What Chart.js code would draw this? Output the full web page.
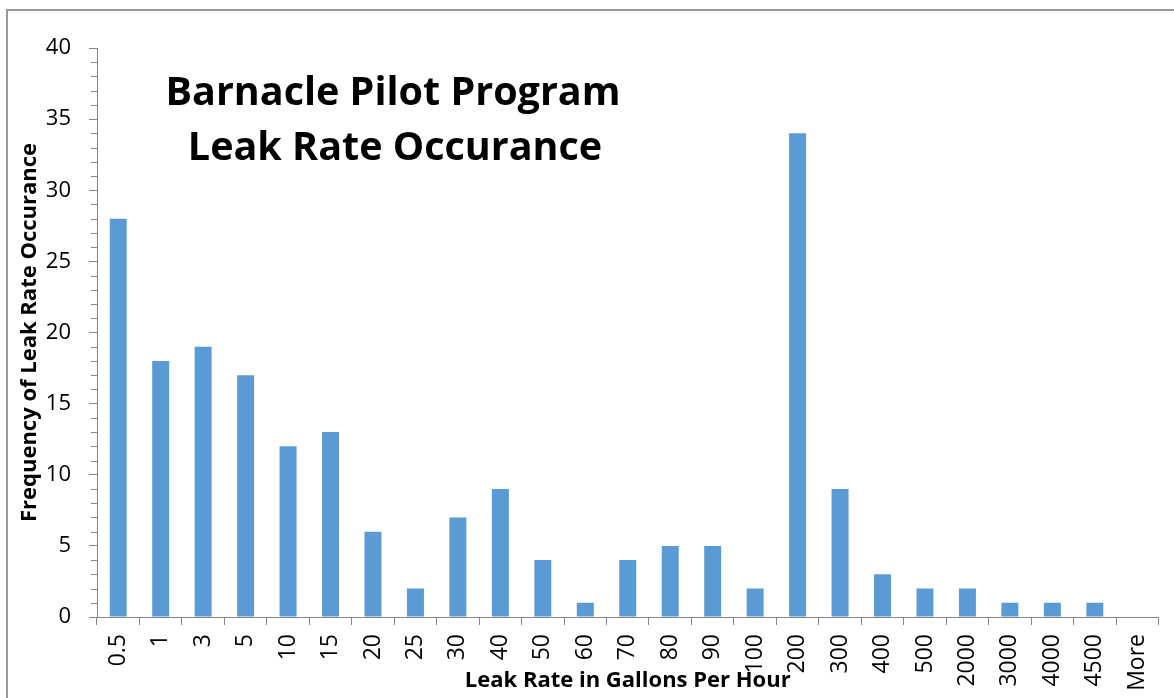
<!DOCTYPE html>
<html>
<head>
<meta charset="utf-8">
<script src="https://cdn.jsdelivr.net/npm/chart.js@4"></script>
<style>
  html, body { margin: 0; padding: 0; background: #fff; overflow: hidden; width: 1174px; height: 698px; }
  #frame { position: absolute; left: 6px; top: 9px; width: 2000px; height: 2000px; border: 2px solid #9a9a9a; box-sizing: border-box; }
  #wrap { position: absolute; left: 0; top: 0; width: 1174px; height: 698px; }
</style>
</head>
<body>
<div id="frame"></div>
<div id="wrap"><canvas id="c" width="1174" height="698"></canvas></div>
<script>
const categories = ["0.5","1","3","5","10","15","20","25","30","40","50","60","70","80","90","100","200","300","400","500","2000","3000","4000","4500","More"];
const frequency = [28,18,19,17,12,13,6,2,7,9,4,1,4,5,5,2,34,9,3,2,2,1,1,1,0];
const titleLines = ["Barnacle Pilot Program", "Leak Rate Occurance"];
const xTitle = "Leak Rate in Gallons Per Hour";
const yTitle = "Frequency of Leak Rate Occurance";

const axisColor = '#868686';
const FONT = "'Open Sans', 'Noto Sans', sans-serif";

const minorTicks = {
  id: 'minorTicks',
  afterDraw(chart) {
    const y = chart.scales.y;
    const ctx = chart.ctx;
    ctx.save();
    ctx.strokeStyle = axisColor;
    ctx.lineWidth = 1;
    for (let v = y.min; v <= y.max; v++) {
      if (v % 5 === 0) continue;
      const py = Math.round(y.getPixelForValue(v)) + 0.5;
      ctx.beginPath();
      ctx.moveTo(y.right - 6, py);
      ctx.lineTo(y.right, py);
      ctx.stroke();
    }
    ctx.restore();
  }
};

const innerTitle = {
  id: 'innerTitle',
  afterDraw(chart) {
    const ctx = chart.ctx;
    ctx.save();
    ctx.fillStyle = '#000';
    ctx.font = "bold 39.5px " + FONT;
    ctx.textAlign = 'center';
    ctx.textBaseline = 'alphabetic';
    ctx.fillText(titleLines[0], 393, 105);
    ctx.fillText(titleLines[1], 395, 160);
    ctx.restore();
  }
};

new Chart(document.getElementById('c'), {
  type: 'bar',
  data: {
    labels: categories,
    datasets: [{
      data: frequency,
      backgroundColor: '#5B9BD5',
      borderWidth: 0,
      categoryPercentage: 1.0,
      barPercentage: 0.4
    }]
  },
  options: {
    responsive: false,
    animation: false,
    layout: { padding: { top: 48, right: 6, bottom: 0, left: 0 } },
    plugins: { legend: { display: false }, tooltip: { enabled: false }, title: { display: false } },
    scales: {
      x: {
        afterFit(scale) { scale.height = 81; },
        grid: { display: true, drawOnChartArea: false, drawTicks: true, tickLength: 8, color: axisColor, offset: true },
        border: { display: true, color: axisColor, width: 1 },
        ticks: { color: '#000', font: { family: FONT, size: 23 }, minRotation: 90, maxRotation: 90, autoSkip: false, padding: 9 },
        title: { display: true, text: xTitle, color: '#000', font: { family: FONT, size: 22, weight: 'bold' }, padding: { top: 4, bottom: 4 } }
      },
      y: {
        min: 0, max: 40,
        afterFit(scale) { scale.width = 97; },
        grid: { display: true, drawOnChartArea: false, drawTicks: true, tickLength: 8, color: axisColor },
        border: { display: true, color: axisColor, width: 1 },
        ticks: { stepSize: 5, color: '#000', font: { family: FONT, size: 22 }, padding: 18 },
        title: { display: true, text: yTitle, color: '#000', font: { family: FONT, size: 22, weight: 'bold' }, padding: { top: 17, bottom: 4 } }
      }
    }
  },
  plugins: [minorTicks, innerTitle]
});
</script>
</body>
</html>
